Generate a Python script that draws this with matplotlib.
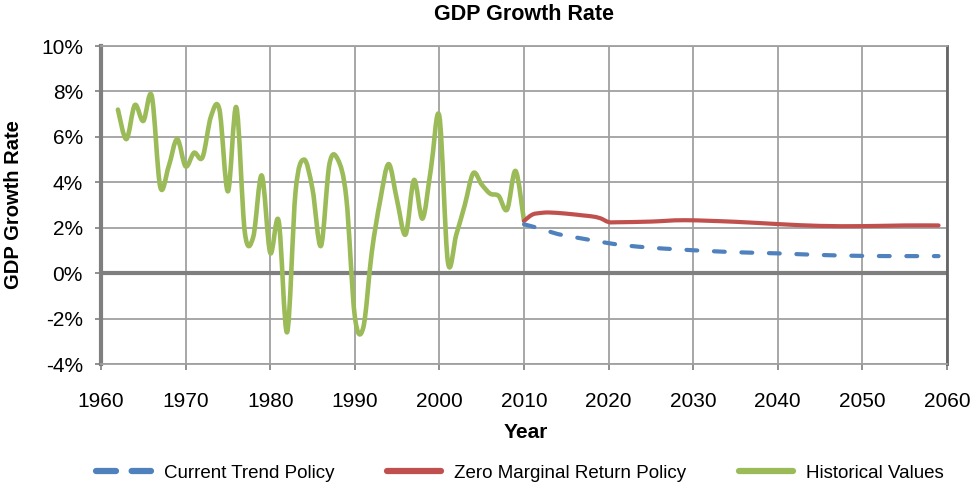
import matplotlib
matplotlib.use("Agg")
import matplotlib.pyplot as plt
from matplotlib.path import Path
from matplotlib.patches import PathPatch
from matplotlib.lines import Line2D
from matplotlib.ticker import FuncFormatter, MultipleLocator

# historical growth rate, % per year
hist_years = list(range(1962, 2011))
hist_values = [7.2, 5.9, 7.4, 6.7, 7.8, 3.8, 4.7, 5.9, 4.7, 5.3,
               5.1, 6.9, 7.2, 3.6, 7.3, 1.8, 1.6, 4.3, 0.9, 2.3,
               -2.6, 3.6, 5.0, 3.7, 1.2, 4.8, 5.0, 3.3, -1.9, -2.4,
               0.9, 3.2, 4.8, 3.2, 1.7, 4.1, 2.4, 4.6, 6.9, 0.5,
               1.7, 3.0, 4.4, 3.9, 3.5, 3.4, 2.8, 4.5, 2.3]

# projections
zero_years = [2010, 2011, 2012, 2013, 2015, 2017, 2018, 2019, 2020, 2021,
              2025, 2029, 2035, 2040, 2045, 2050, 2055, 2059]
zero_values = [2.3, 2.58, 2.65, 2.67, 2.62, 2.54, 2.5, 2.42, 2.25, 2.24,
               2.27, 2.33, 2.26, 2.16, 2.08, 2.07, 2.1, 2.1]

trend_years = [2010, 2012, 2014, 2016, 2018, 2020, 2022, 2025, 2028,
               2032, 2036, 2040, 2045, 2050, 2055, 2059]
trend_values = [2.15, 1.95, 1.72, 1.58, 1.45, 1.32, 1.22, 1.12, 1.05,
                0.97, 0.91, 0.87, 0.8, 0.76, 0.75, 0.75]

BLUE = "#4f81bd"
RED = "#c0504d"
GREEN = "#9bbb59"

plt.rcParams["font.family"] = ["Liberation Sans", "DejaVu Sans"]


def smooth_path(xs, ys):
    # excel style smoothed line: cubic bezier through every point
    pts = list(zip(xs, ys))
    verts = [pts[0]]
    codes = [Path.MOVETO]
    n = len(pts)
    for i in range(n - 1):
        p0 = pts[i - 1] if i > 0 else pts[i]
        p1 = pts[i]
        p2 = pts[i + 1]
        p3 = pts[i + 2] if i + 2 < n else pts[i + 1]
        c1 = (p1[0] + (p2[0] - p0[0]) / 6, p1[1] + (p2[1] - p0[1]) / 6)
        c2 = (p2[0] - (p3[0] - p1[0]) / 6, p2[1] - (p3[1] - p1[1]) / 6)
        verts += [c1, c2, p2]
        codes += [Path.CURVE4] * 3
    return Path(verts, codes)


fig = plt.figure(figsize=(9.77, 4.92), dpi=100)
ax = fig.add_axes([101 / 977, 1 - 364 / 492, 846 / 977, 318 / 492])

ax.set_xlim(1960, 2060)
ax.set_ylim(-4, 10)
ax.xaxis.set_major_locator(MultipleLocator(10))
ax.yaxis.set_major_locator(MultipleLocator(2))
ax.yaxis.set_major_formatter(FuncFormatter(lambda v, p: f"{v:.0f}%"))

ax.grid(True, color="#a0a0a0", linewidth=1.3)
ax.set_axisbelow(True)
ax.axhline(0, color="#7f7f7f", linewidth=3, zorder=1.5)

for side in ["top", "bottom"]:
    ax.spines[side].set_color("#a0a0a0")
    ax.spines[side].set_linewidth(1.3)
ax.spines["left"].set_color("#7f7f7f")
ax.spines["left"].set_linewidth(3)
ax.spines["right"].set_color("#666666")
ax.spines["right"].set_linewidth(2)

ax.tick_params(axis="both", direction="out", length=4, width=1.3,
               color="#888888", labelsize=15)
ax.tick_params(axis="x", pad=16)
ax.tick_params(axis="y", pad=9)

ax.add_patch(PathPatch(smooth_path(hist_years, hist_values), fill=False,
                       edgecolor=GREEN, linewidth=3.3, capstyle="round",
                       joinstyle="round", zorder=3))
ax.add_patch(PathPatch(smooth_path(zero_years, zero_values), fill=False,
                       edgecolor=RED, linewidth=3.0, capstyle="round",
                       joinstyle="round", zorder=3))
ax.add_patch(PathPatch(smooth_path(trend_years, trend_values), fill=False,
                       edgecolor=BLUE, linewidth=3.0, capstyle="round",
                       linestyle=(0, (2.6, 4)), zorder=3))

fig.text(524 / 977, 1 - 15 / 492, "GDP Growth Rate",
         fontweight="bold", fontsize=15.5, ha="center", va="center")
fig.text(14 / 977, 1 - 205 / 492, "GDP Growth Rate",
         fontweight="bold", fontsize=14.5, rotation=90, ha="center", va="center")
fig.text(526 / 977, 1 - 432 / 492, "Year",
         fontweight="bold", fontsize=15, ha="center", va="center")

handles = [
    Line2D([], [], color=BLUE, linewidth=4.5, linestyle=(0, (3.2, 2.5)),
           dash_capstyle="round"),
    Line2D([], [], color=RED, linewidth=4.5, solid_capstyle="round"),
    Line2D([], [], color=GREEN, linewidth=4.5, solid_capstyle="round"),
]
labels = ["Current Trend Policy", "Zero Marginal Return Policy",
          "Historical Values"]
fig.legend(handles, labels, loc="center", ncol=3, frameon=False,
           bbox_to_anchor=(520 / 977, 1 - 473 / 492),
           prop={"size": 13.5},
           handlelength=2.9, handletextpad=0.69, columnspacing=2.8)

fig.savefig("out.png", dpi=100)
